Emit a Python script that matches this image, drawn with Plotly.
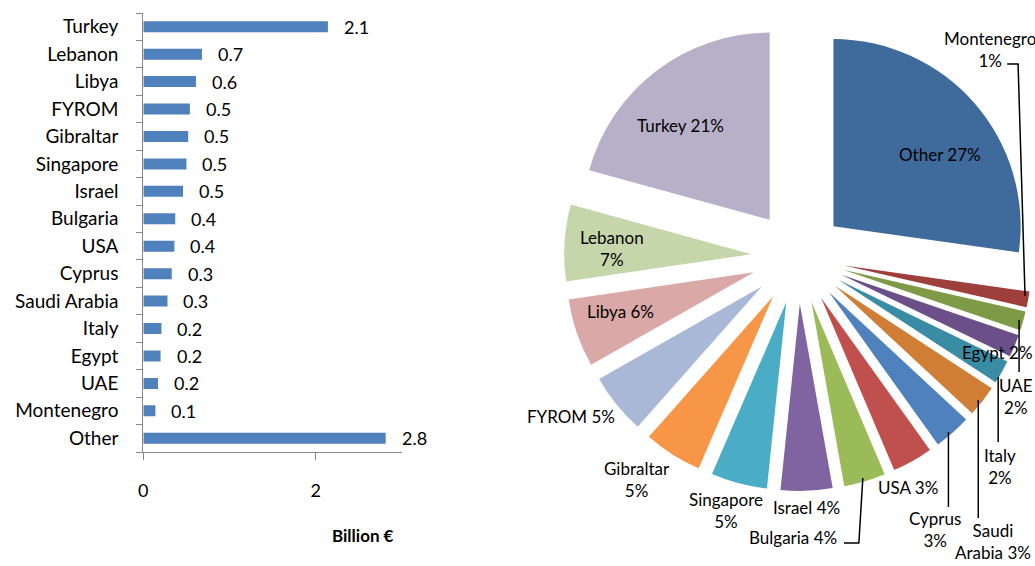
import plotly.graph_objects as go

# Exports by destination, billion euro (listed from the last category up)
countries = ["Other", "Montenegro", "UAE", "Egypt", "Italy", "Saudi Arabia", "Cyprus",
             "USA", "Bulgaria", "Israel", "Singapore", "Gibraltar", "FYROM", "Libya",
             "Lebanon", "Turkey"]
values = [2.81, 0.14, 0.17, 0.20, 0.21, 0.28, 0.33, 0.36, 0.37, 0.46, 0.50, 0.52,
          0.54, 0.61, 0.68, 2.14]
x_ticks = [0, 2]

slice_colors = ["#3F6A9C", "#9E3F3C", "#7F9A47", "#6A4F88", "#3A8CA4", "#D07D36",
                "#4F81BD", "#C0504D", "#9BBB59", "#8064A2", "#4BACC6", "#F79646",
                "#A9B8D7", "#D9A8A7", "#C5D7AA", "#B8AFC8"]

W, H = 1035, 566
FONT = "Lato, 'Open Sans', sans-serif"
BAR_COLOR = "#4F81BD"
AXIS_COLOR = "#868686"


def px(x):
    return x / W


def py(y):
    return 1 - y / H


fig = go.Figure()

# ---- horizontal bar chart ----
fig.add_trace(go.Bar(
    x=values, y=countries, orientation="h",
    marker=dict(color=BAR_COLOR, line=dict(width=0)),
    xaxis="x", yaxis="y", showlegend=False, hoverinfo="x+y",
))

annotations = []
for c, v in zip(countries, values):
    annotations.append(dict(
        x=v, y=c, xref="x", yref="y", text=f"{v:.1f}", showarrow=False,
        xanchor="left", yanchor="middle", xshift=14,
        font=dict(family=FONT, size=18, color="#000000"),
    ))

annotations.append(dict(
    x=px(360), y=py(535), xref="paper", yref="paper", text="<b>Billion €</b>",
    showarrow=False, xanchor="center", yanchor="middle",
    font=dict(family=FONT, size=17, color="#000000"),
))

# ---- exploded pie ----
fig.add_trace(go.Pie(
    labels=countries, values=values, sort=False, direction="clockwise", rotation=0,
    pull=[0.25] * len(values), marker=dict(colors=slice_colors, line=dict(width=0)),
    textinfo="none", domain=dict(x=[0.54, 1.0], y=[0.1325, 0.9594]),
    showlegend=False,
))

total = sum(values)
pct = {c: round(100 * v / total) for c, v in zip(countries, values)}

# label placement: (centre x, centre y, wrap style)
#   "line"  -> name and percent on one line
#   "stack" -> percent under the name
#   "word"  -> break after the first word of the name
label_pos = {
    "Other": (940, 155, "line"),
    "Turkey": (679, 125, "line"),
    "Lebanon": (610, 248, "stack"),
    "Libya": (618, 311, "line"),
    "FYROM": (569, 416, "line"),
    "Gibraltar": (635, 479, "stack"),
    "Singapore": (725, 510, "stack"),
    "Israel": (805, 507, "line"),
    "Bulgaria": (792, 537, "line"),
    "USA": (907, 487, "line"),
    "Cyprus": (935, 529, "stack"),
    "Saudi Arabia": (993, 541, "word"),
    "Italy": (1000, 466, "stack"),
    "Egypt": (997, 352, "line"),
    "UAE": (1016, 396, "stack"),
    "Montenegro": (990, 50, "stack"),
}

for c in countries:
    x, y, style = label_pos[c]
    p = f"{pct[c]}%"
    if style == "line":
        txt = f"{c} {p}"
    elif style == "stack":
        txt = f"{c}<br>{p}"
    else:
        first, rest = c.split(" ", 1)
        txt = f"{first}<br>{rest} {p}"
    annotations.append(dict(
        x=px(x), y=py(y), xref="paper", yref="paper", text=txt, showarrow=False,
        xanchor="center", yanchor="middle", align="center",
        font=dict(family=FONT, size=17, color="#000000"),
    ))

# leader lines from outside labels to their slices
leaders = [
    [(1007, 64), (1018, 64), (1025, 296)],
    [(1019, 320), (1019, 372)],
    [(998, 377), (998, 442)],
    [(978, 400), (978, 518)],
    [(948, 432), (948, 507)],
    [(862, 478), (858, 543), (843, 543)],
]
shapes = []
for pts in leaders:
    path = "M " + " L ".join(f"{px(a):.5f},{py(b):.5f}" for a, b in pts)
    shapes.append(dict(type="path", path=path, xref="paper", yref="paper",
                       line=dict(color="#000000", width=1.5)))

fig.update_layout(
    width=W, height=H,
    margin=dict(l=0, r=0, t=0, b=0, pad=0),
    paper_bgcolor="white", plot_bgcolor="white",
    bargap=0.6,
    font=dict(family=FONT, size=18, color="#000000"),
    xaxis=dict(
        domain=[px(139), px(399)], range=[0, 3], tickvals=x_ticks,
        showgrid=False, zeroline=False, showline=True, linecolor=AXIS_COLOR,
        linewidth=1.2, ticks="outside", ticklen=7, tickcolor=AXIS_COLOR,
        ticklabelstandoff=15, tickfont=dict(family=FONT, size=18), fixedrange=True,
    ),
    yaxis=dict(
        domain=[py(452), py(13)], type="category",
        showgrid=False, zeroline=False, showline=True, linecolor=AXIS_COLOR,
        linewidth=1.2, ticks="outside", ticklen=6, tickcolor=AXIS_COLOR,
        tickson="boundaries", ticklabelstandoff=20,
        tickfont=dict(family=FONT, size=19), fixedrange=True,
    ),
    annotations=annotations,
    shapes=shapes,
)

fig.write_html("out.html")
